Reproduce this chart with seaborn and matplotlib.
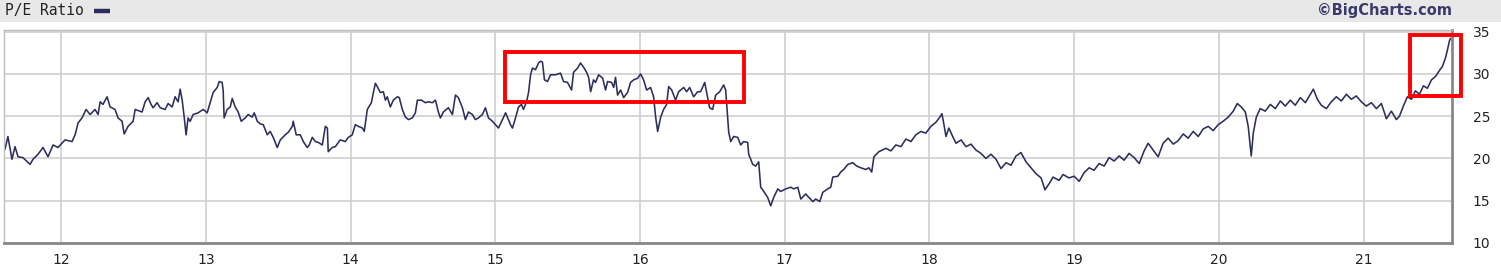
import matplotlib
matplotlib.use("Agg")
import matplotlib.pyplot as plt
import seaborn as sns
import pandas as pd
from matplotlib.patches import Rectangle

# decimal year (12 = 2012) and P/E ratio
years = [
    11.613, 11.633, 11.661, 11.682, 11.703, 11.737, 11.786, 11.806, 11.841, 11.876,
    11.910, 11.945, 11.979, 12.028, 12.076, 12.097, 12.118, 12.145, 12.173, 12.201,
    12.235, 12.256, 12.270, 12.290, 12.318, 12.339, 12.373, 12.394, 12.422, 12.436,
    12.463, 12.498, 12.512, 12.560,
    12.581, 12.602, 12.622, 12.636, 12.664, 12.685, 12.719, 12.740, 12.768, 12.788,
    12.809, 12.823, 12.837, 12.851, 12.864, 12.878, 12.892, 12.913, 12.947, 12.982,
    13.010, 13.030, 13.051, 13.079, 13.093, 13.113, 13.120, 13.127, 13.148, 13.169,
    13.183, 13.203, 13.224, 13.245, 13.273, 13.293, 13.321, 13.335, 13.356, 13.376,
    13.397, 13.425, 13.445, 13.466, 13.494, 13.515, 13.549, 13.570, 13.598,
    13.604, 13.625, 13.653, 13.674, 13.701, 13.715, 13.736, 13.757, 13.777, 13.805,
    13.826, 13.840, 13.846, 13.874, 13.895, 13.929, 13.964, 13.985, 14.012, 14.033,
    14.054, 14.082, 14.095, 14.116, 14.144, 14.158, 14.172, 14.185, 14.206, 14.227,
    14.241, 14.254, 14.275, 14.296, 14.324, 14.337, 14.358, 14.379, 14.400, 14.427,
    14.448, 14.462, 14.490, 14.517, 14.538, 14.566, 14.587,
    14.607, 14.621, 14.642, 14.676, 14.704, 14.725, 14.745, 14.773, 14.794, 14.815,
    14.842, 14.863, 14.884, 14.911, 14.932, 14.953, 14.981, 15.001, 15.022, 15.050,
    15.071, 15.091, 15.105, 15.119, 15.140, 15.161, 15.181, 15.195, 15.216, 15.230,
    15.244, 15.257, 15.278, 15.299, 15.312, 15.326, 15.340, 15.361, 15.382, 15.416,
    15.451, 15.472, 15.499, 15.527, 15.541, 15.569,
    15.589, 15.610, 15.631, 15.645, 15.659, 15.679, 15.693, 15.714, 15.742, 15.762,
    15.776, 15.804, 15.818, 15.831, 15.845, 15.866, 15.887, 15.914, 15.935, 15.956,
    15.984, 16.004, 16.025, 16.046, 16.073, 16.094, 16.108, 16.122, 16.143, 16.163,
    16.184, 16.198, 16.219, 16.246, 16.267, 16.302, 16.322, 16.343, 16.371, 16.398,
    16.419, 16.447, 16.467, 16.481, 16.502, 16.523, 16.551, 16.578, 16.592,
    16.613, 16.627, 16.647, 16.675, 16.696, 16.716, 16.744, 16.751, 16.779, 16.799,
    16.820, 16.834, 16.855, 16.882, 16.903, 16.924, 16.952, 16.972, 17.007, 17.042,
    17.062, 17.090, 17.111, 17.145, 17.166, 17.194, 17.214, 17.242, 17.263, 17.297,
    17.318, 17.332, 17.367, 17.387, 17.408, 17.436, 17.470, 17.498, 17.525, 17.560,
    17.581, 17.601,
    17.616, 17.650, 17.699, 17.733, 17.768, 17.803, 17.837, 17.872, 17.906, 17.941,
    17.975, 18.010, 18.045, 18.072, 18.086, 18.100, 18.114, 18.134, 18.155, 18.183,
    18.218, 18.252, 18.287, 18.321, 18.356, 18.390, 18.425, 18.460, 18.494, 18.529,
    18.563, 18.598, 18.632, 18.667, 18.702, 18.736, 18.771, 18.798, 18.826, 18.854,
    18.895, 18.923, 18.964, 18.999, 19.034, 19.068, 19.103, 19.137, 19.172, 19.207,
    19.241, 19.276, 19.310, 19.345, 19.379, 19.414, 19.449, 19.483, 19.511, 19.545,
    19.580, 19.614, 19.649, 19.684, 19.718, 19.753, 19.787, 19.822, 19.857, 19.891,
    19.926, 19.960, 19.995, 20.029, 20.064, 20.099, 20.126, 20.154, 20.182, 20.202,
    20.223, 20.237, 20.258, 20.285, 20.320, 20.355, 20.389, 20.424, 20.458, 20.493,
    20.527, 20.562, 20.597, 20.631, 20.652, 20.680, 20.707, 20.742, 20.776, 20.811,
    20.846, 20.880, 20.915, 20.949, 20.984, 21.018, 21.053, 21.088, 21.122, 21.157,
    21.191, 21.226, 21.247, 21.274, 21.302, 21.330, 21.357, 21.385, 21.413, 21.440,
    21.468, 21.496, 21.523, 21.544, 21.565, 21.578, 21.592, 21.599,
]
pe_ratio = [
    21.1, 22.6, 19.9, 21.4, 20.2, 20.1, 19.3, 19.9, 20.5, 21.3,
    20.2, 21.6, 21.3, 22.2, 22.0, 22.8, 24.2, 24.8, 25.8, 25.2,
    25.8, 25.2, 26.7, 26.4, 27.3, 26.1, 25.8, 24.8, 24.4, 22.9,
    23.8, 24.4, 25.8, 25.5,
    26.7, 27.2, 26.4, 26.0, 26.6, 26.0, 25.8, 26.5, 26.1, 27.3,
    26.7, 28.2, 26.9, 24.9, 22.8, 24.8, 24.4, 25.2, 25.4, 25.8,
    25.4, 26.6, 27.8, 28.4, 29.1, 29.0, 28.1, 24.8, 25.8, 26.1,
    27.1, 26.1, 25.5, 24.4, 24.8, 25.2, 24.9, 25.4, 24.4, 24.1,
    24.0, 22.8, 23.2, 22.5, 21.3, 22.2, 22.8, 23.1, 23.8,
    24.4, 22.8, 22.8, 22.0, 21.3, 21.6, 22.5, 22.0, 21.9, 21.6,
    23.8, 23.6, 20.8, 21.3, 21.4, 22.2, 22.0, 22.5, 22.8, 24.0,
    23.8, 23.6, 23.2, 25.8, 26.6, 27.8, 28.9, 28.5, 27.8, 27.9,
    26.9, 27.3, 26.1, 26.9, 27.3, 27.2, 25.8, 24.9, 24.6, 24.8,
    25.4, 26.9, 26.9, 26.6, 26.7, 26.6, 26.9,
    25.5, 24.8, 25.5, 26.0, 25.2, 27.5, 27.2, 26.0, 24.6, 25.5,
    25.2, 24.6, 24.8, 25.2, 26.0, 24.8, 24.4, 24.0, 23.6, 24.6,
    25.4, 24.6, 24.0, 23.6, 24.8, 26.1, 26.4, 25.8, 26.7, 27.8,
    29.9, 30.7, 30.5, 31.3, 31.5, 31.4, 29.3, 29.1, 29.9, 29.9,
    30.1, 29.1, 29.0, 28.1, 30.2, 30.7,
    31.3, 30.8, 30.2, 29.6, 27.9, 29.3, 29.0, 29.9, 29.5, 28.1,
    29.1, 29.0, 28.4, 29.6, 27.5, 28.1, 27.2, 27.8, 29.0, 29.3,
    29.5, 30.0, 29.3, 28.1, 28.4, 27.3, 24.9, 23.2, 24.9, 25.8,
    26.4, 28.5, 28.1, 26.9, 27.9, 28.4, 27.9, 28.4, 27.3, 27.9,
    27.9, 29.0, 27.2, 26.0, 25.8, 27.5, 27.9, 28.7, 28.1,
    23.1, 22.0, 22.6, 22.5, 21.6, 22.0, 21.9, 20.5, 19.3, 19.1,
    19.6, 16.6, 16.1, 15.4, 14.4, 15.4, 16.4, 16.1, 16.4, 16.6,
    16.4, 16.6, 15.2, 15.8, 15.4, 14.9, 15.2, 14.9, 16.0, 16.4,
    16.6, 17.8, 17.9, 18.4, 18.7, 19.3, 19.5, 19.1, 18.9, 18.7,
    18.9, 18.4,
    20.2, 20.8, 21.2, 20.9, 21.6, 21.4, 22.3, 22.0, 22.8, 23.2,
    23.0, 23.8, 24.3, 24.9, 25.3, 24.0, 22.6, 23.6, 22.8, 21.8,
    22.2, 21.4, 21.7, 21.0, 20.6, 20.0, 20.5, 19.9, 18.8, 19.5,
    19.2, 20.3, 20.7, 19.6, 18.9, 18.2, 17.7, 16.3, 17.0, 17.8,
    17.4, 18.1, 17.7, 17.9, 17.3, 18.3, 18.9, 18.6, 19.4, 19.1,
    20.1, 19.7, 20.3, 19.8, 20.6, 20.1, 19.4, 20.9, 21.8, 21.0,
    20.2, 21.8, 22.4, 21.7, 22.1, 22.9, 22.4, 23.2, 22.6, 23.5,
    23.8, 23.3, 24.0, 24.4, 24.9, 25.6, 26.5, 26.1, 25.5, 23.8,
    20.3, 23.0, 24.9, 25.9, 25.6, 26.4, 25.9, 26.8, 26.2, 26.9,
    26.3, 27.2, 26.6, 27.6, 28.2, 27.0, 26.3, 25.9, 26.7, 27.3,
    26.8, 27.6, 27.0, 27.4, 26.7, 26.2, 26.6, 25.9, 26.5, 24.7,
    25.6, 24.6, 25.0, 26.2, 27.3, 27.0, 28.0, 27.6, 28.6, 28.3,
    29.3, 29.7, 30.4, 30.9, 31.9, 32.8, 33.9, 34.2,
]
x_ticks = [12, 13, 14, 15, 16, 17, 18, 19, 20, 21]
x_tick_labels = ["12", "13", "14", "15", "16", "17", "18", "19", "20", "21"]
y_ticks = [10, 15, 20, 25, 30, 35]
y_tick_labels = ["10", "15", "20", "25", "30", "35"]
# highlight boxes (year_start, year_end, pe_low, pe_high)
box_x0 = [15.07, 21.32]
box_x1 = [16.72, 21.67]
box_y0 = [26.7, 27.4]
box_y1 = [32.6, 34.6]

sns.set_theme(style="white")
plt.rcParams["font.family"] = ["DejaVu Sans"]

W, H = 1501, 267
fig = plt.figure(figsize=(W / 100, H / 100), dpi=100)
fig.patch.set_facecolor("white")

# header band
fig.patches.append(Rectangle((0, 1 - 22 / H), 1, 22 / H, transform=fig.transFigure,
                             facecolor="#e8e8e8", edgecolor="none", zorder=0))
fig.text(5 / W, 1 - 11 / H, "P/E Ratio", family="DejaVu Sans Mono", fontsize=10.5,
         color="#222222", va="center", ha="left")
fig.lines.append(plt.Line2D([94 / W, 110 / W], [1 - 11 / H, 1 - 11 / H],
                            transform=fig.transFigure, color="#2e2e5e", lw=3.2,
                            solid_capstyle="butt"))
fig.text(1452 / W, 1 - 10 / H, "©BigCharts.com", fontsize=10.5, fontweight="bold",
         color="#3a3a6c", va="center", ha="right")

ax = fig.add_axes([4 / W, 24 / H, 1448 / W, 213 / H])
df = pd.DataFrame({"year": years, "pe": pe_ratio})
sns.lineplot(data=df, x="year", y="pe", ax=ax, color="#2e2e5e", lw=1.15,
             estimator=None, sort=False)

ax.set_xlim(11.606, 21.61)
ax.set_ylim(10, 35.2)
ax.set_xticks(x_ticks)
ax.set_xticklabels(x_tick_labels)
ax.set_yticks(y_ticks)
ax.set_yticklabels(y_tick_labels)
ax.yaxis.tick_right()
ax.tick_params(axis="y", length=0, pad=15, labelsize=10, labelcolor="#222222")
ax.tick_params(axis="x", length=0, pad=7, labelsize=10, labelcolor="#222222")
ax.set_xlabel("")
ax.set_ylabel("")
ax.grid(True, color="#cccccc", lw=1.1)
ax.set_axisbelow(True)
for side in ["left", "top"]:
    ax.spines[side].set_color("#bdbdbd")
    ax.spines[side].set_linewidth(1)
for side in ["right", "bottom"]:
    ax.spines[side].set_color("#888888")
    ax.spines[side].set_linewidth(2)

for x0, x1, y0, y1 in zip(box_x0, box_x1, box_y0, box_y1):
    ax.add_patch(Rectangle((x0, y0), x1 - x0, y1 - y0, fill=False,
                           edgecolor="#ff0000", lw=2.8, clip_on=False, zorder=5))

fig.savefig("out.png", dpi=100, facecolor="white")
